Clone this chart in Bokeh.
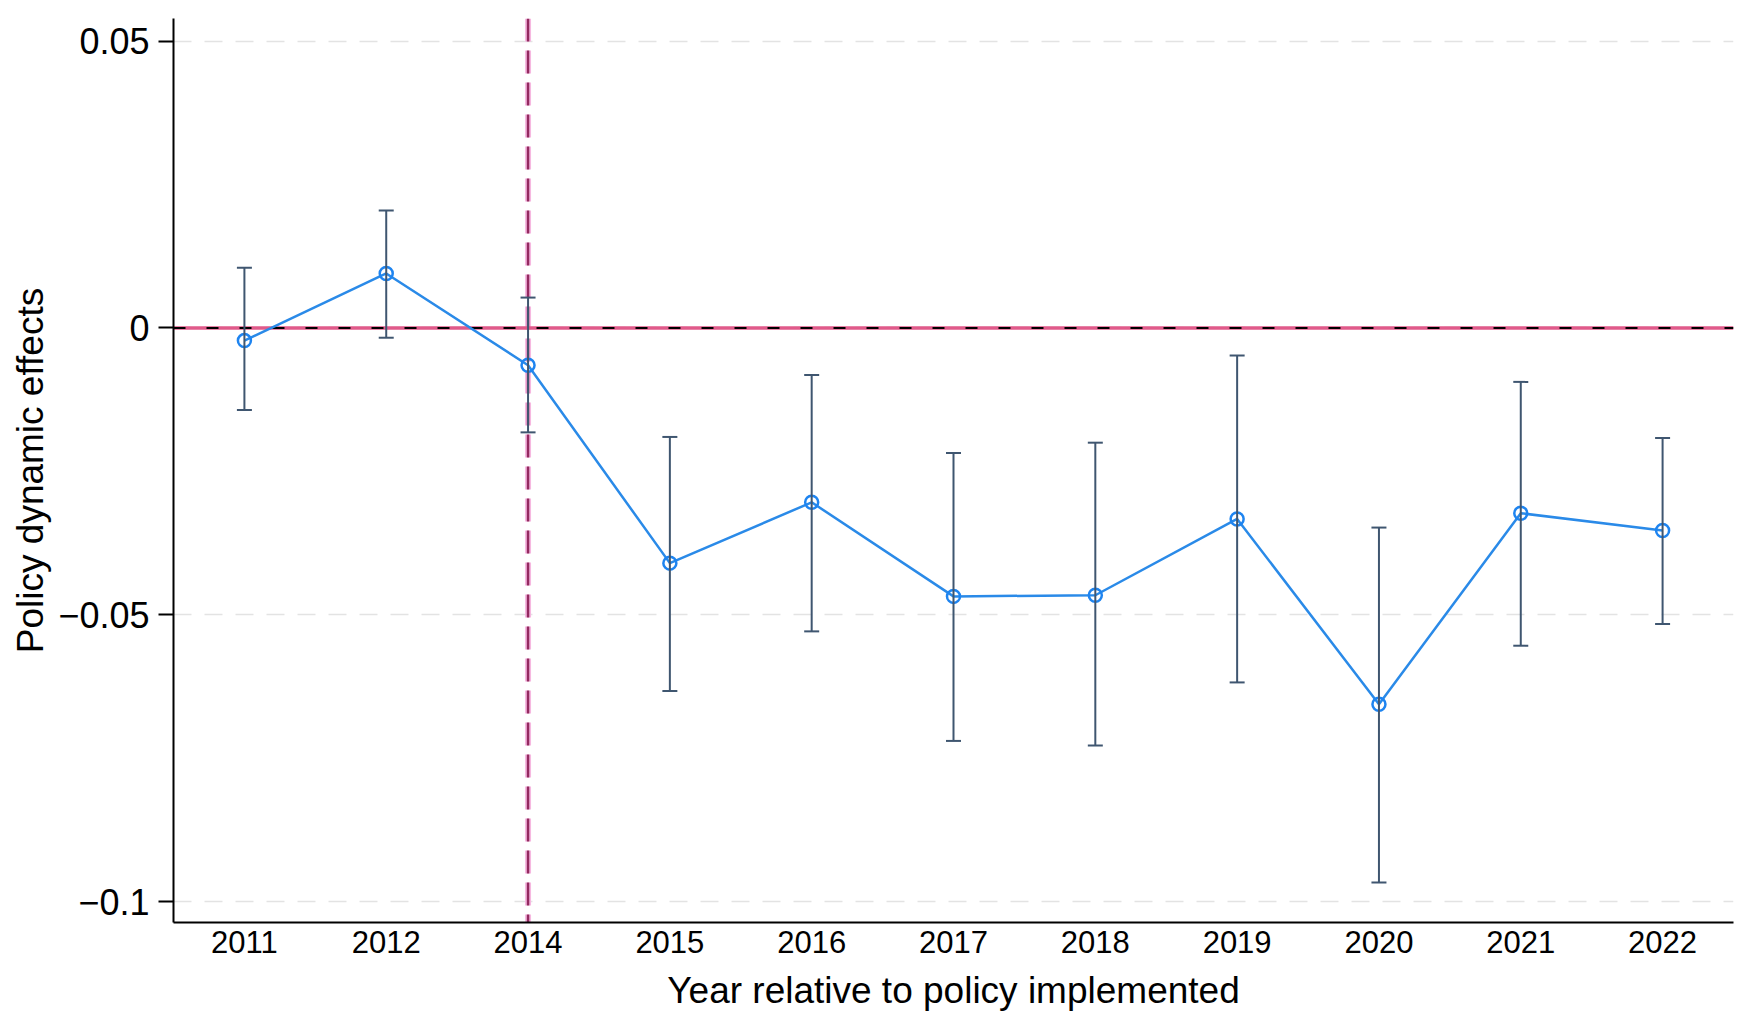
from bokeh.plotting import figure
from bokeh.models import FactorRange, Range1d, Span, Whisker, TeeHead, ColumnDataSource, FixedTicker
from bokeh.embed import file_html
from bokeh.resources import INLINE

categories = ["2011", "2012", "2014", "2015", "2016", "2017", "2018", "2019", "2020", "2021", "2022"]
coef = [-0.0022, 0.0095, -0.0065, -0.0410, -0.0304, -0.0468, -0.0466, -0.0333, -0.0656, -0.0323, -0.0353]
ci_upper = [0.0105, 0.0205, 0.0053, -0.0190, -0.0082, -0.0218, -0.0200, -0.0048, -0.0348, -0.0094, -0.0192]
ci_lower = [-0.0143, -0.0017, -0.0182, -0.0633, -0.0529, -0.0720, -0.0728, -0.0618, -0.0967, -0.0554, -0.0516]
y_ticks = [-0.1, -0.05, 0, 0.05]
y_tick_labels = ["\u22120.1", "\u22120.05", "0", "0.05"]
event_year = "2014"
x_title = "Year relative to policy implemented"
y_title = "Policy dynamic effects"

FONT = "Liberation Sans"

src = ColumnDataSource(dict(x=categories, y=coef, upper=ci_upper, lower=ci_lower))

p = figure(
    width=1741, height=1013,
    x_range=FactorRange(factors=categories, range_padding=0),
    y_range=Range1d(-0.10366, 0.05396),
    output_backend="svg", toolbar_location=None,
    min_border_left=173, min_border_right=8, min_border_top=18, min_border_bottom=76,
)
p.outline_line_color = None
p.background_fill_color = "white"
p.border_fill_color = "white"

# grid
p.xgrid.grid_line_color = None
p.ygrid.ticker = FixedTicker(ticks=y_ticks)
p.ygrid.grid_line_color = "#e3e3e3"
p.ygrid.grid_line_width = 1.5
p.ygrid.grid_line_dash = "18 13"

# y axis
ya = p.yaxis[0]
ya.ticker = FixedTicker(ticks=y_ticks)
ya.major_label_overrides = {t: l for t, l in zip(y_ticks, y_tick_labels)}
ya.axis_line_width = 2
ya.axis_line_color = "black"
ya.major_tick_line_width = 2
ya.major_tick_out = 15
ya.major_tick_in = 0
ya.minor_tick_line_color = None
ya.major_label_text_font = FONT
ya.major_label_text_font_size = "36px"
ya.major_label_text_color = "black"
ya.major_label_standoff = 9
ya.axis_label = y_title
ya.axis_label_text_font = FONT
ya.axis_label_text_font_size = "37px"
ya.axis_label_text_font_style = "normal"
ya.axis_label_text_color = "black"
ya.axis_label_standoff = 4

# x axis
xa = p.xaxis[0]
xa.axis_line_width = 2
xa.axis_line_color = "black"
xa.major_tick_out = 0
xa.major_tick_in = 0
xa.major_tick_line_color = None
xa.minor_tick_line_color = None
xa.major_label_text_font = FONT
xa.major_label_text_font_size = "31px"
xa.major_label_text_color = "black"
xa.major_label_standoff = 8
xa.axis_label = x_title
xa.axis_label_text_font = FONT
xa.axis_label_text_font_size = "37px"
xa.axis_label_text_font_style = "normal"
xa.axis_label_text_color = "black"
xa.axis_label_standoff = 14

# reference lines
ev_loc = categories.index(event_year) + 0.5
p.add_layout(Span(location=ev_loc, dimension="height", line_color="#f6b8e0", line_width=6,
                  line_dash="23 9", level="underlay"))
p.add_layout(Span(location=ev_loc, dimension="height", line_color="#932a60", line_width=2.5,
                  line_dash="23 9", level="underlay"))
p.add_layout(Span(location=0, dimension="width", line_color="#e05a8a", line_width=3.5, level="underlay"))
p.add_layout(Span(location=0, dimension="width", line_color="black", line_width=2,
                  line_dash="12 21", level="underlay"))

# error bars
w = Whisker(source=src, base="x", upper="upper", lower="lower",
            line_color="#3f5670", line_width=2,
            upper_head=TeeHead(size=15, line_color="#3f5670", line_width=2),
            lower_head=TeeHead(size=15, line_color="#3f5670", line_width=2),
            level="glyph")
p.add_layout(w)

# series
p.line("x", "y", source=src, line_color="#2a8ae8", line_width=2.5)
p.scatter("x", "y", source=src, marker="circle", size=13, fill_color=None,
          line_color="#1e84f0", line_width=2.5)

open("out.html", "w").write(file_html(p, INLINE))
